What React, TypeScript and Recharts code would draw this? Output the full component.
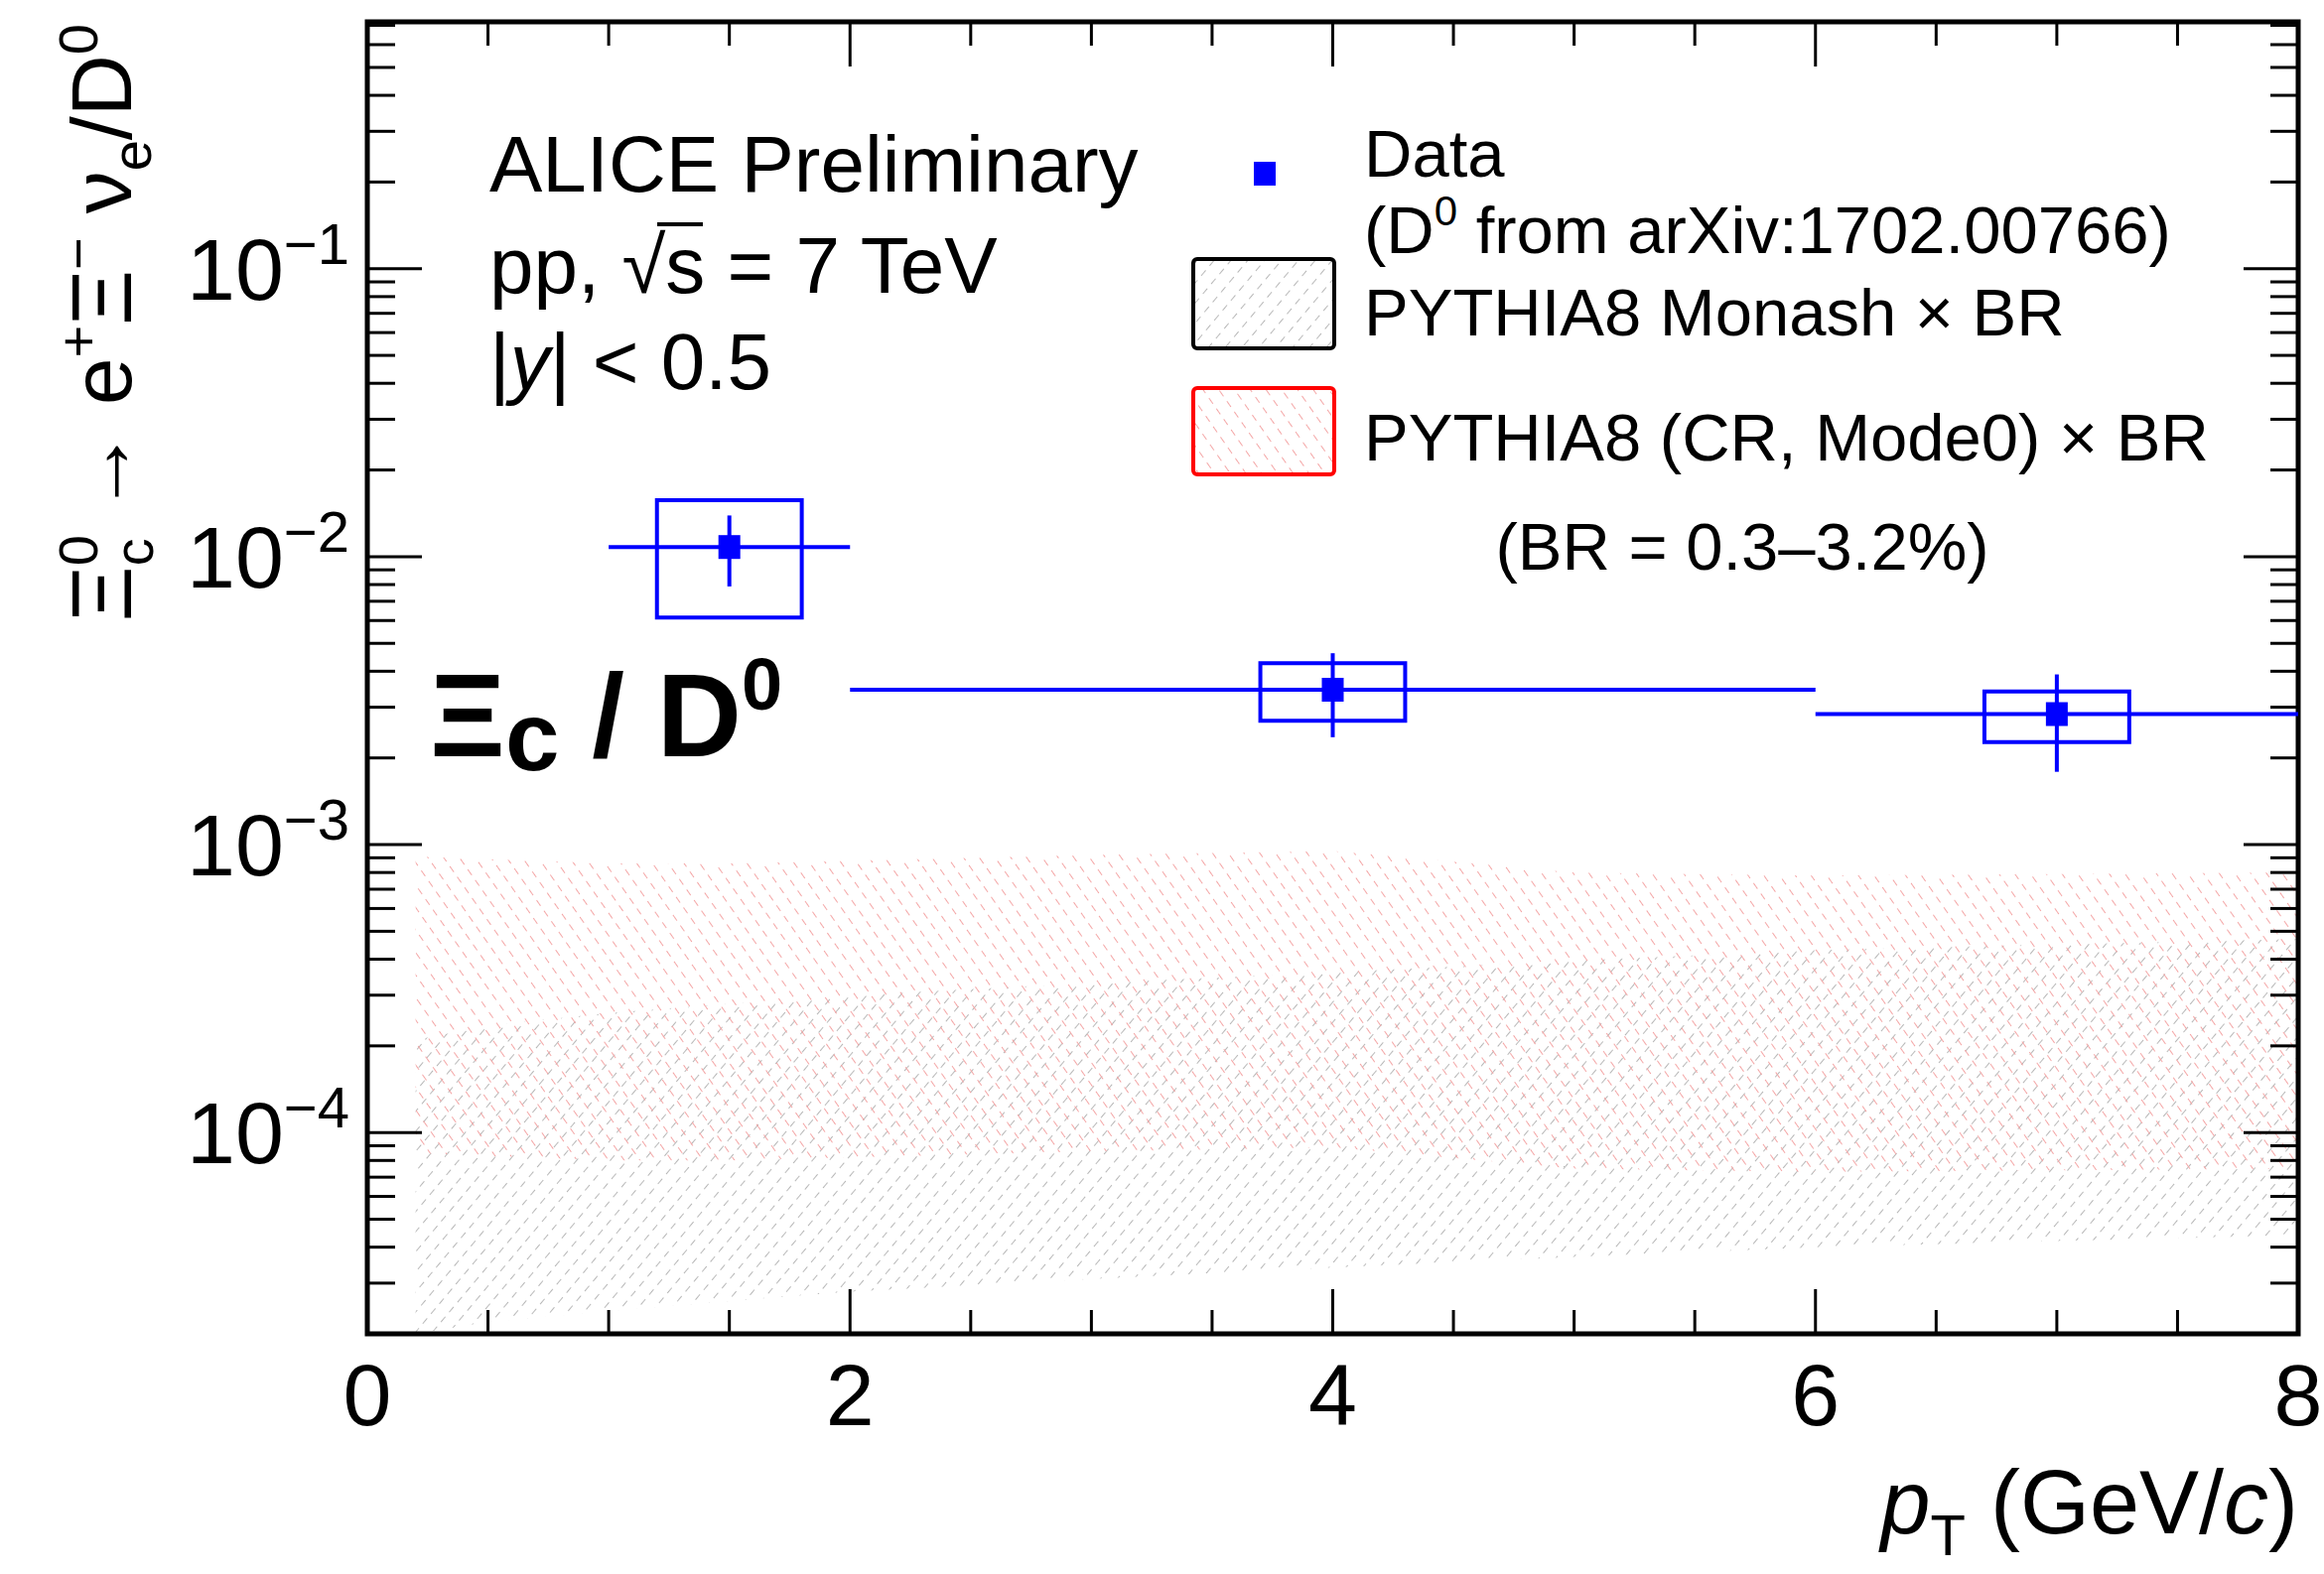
import React from "react";
import {
  ComposedChart,
  Area,
  Scatter,
  ErrorBar,
  XAxis,
  YAxis,
  ReferenceArea,
} from "recharts";

// canvas and frame (pixels)
const W = 2341;
const H = 1586;
const PLOT_LEFT = 370;
const PLOT_RIGHT = 2315;
const PLOT_TOP = 22;
const PLOT_BOTTOM = 1344;
const FONT = "'Liberation Sans', Arial, Helvetica, sans-serif";
const BLUE = "#0000ff";

// axis ranges
const X_MIN = 0;
const X_MAX = 8;
const Y_MIN = 2e-5;
const Y_MAX = 0.72;

// tick labels
const xMajorTicks = [0, 2, 4, 6, 8];
const yDecades = [1e-4, 1e-3, 1e-2, 1e-1];
const yDecadeExponents = ["\u22124", "\u22123", "\u22122", "\u22121"];

// measured Xi_c / D0 ratio
const ptCenter = [1.5, 4, 7];
const binLow = [1, 2, 6];
const binHigh = [2, 6, 8];
const ratioValue = [0.0108, 0.00345, 0.00284];
const statLow = [0.00788, 0.00236, 0.00179];
const statHigh = [0.0139, 0.00462, 0.0039];
const sysLow = [0.00614, 0.00269, 0.00227];
const sysHigh = [0.0157, 0.00427, 0.0034];
const sysBoxLow = [1.2, 3.7, 6.7];
const sysBoxHigh = [1.8, 4.3, 7.3];

// PYTHIA8 bands (BR = 0.3-3.2%)
const modelPt = [0.2, 0.5, 1, 1.5, 2, 3, 4, 5, 6, 7, 8];
const monashLow = [2.0e-5, 2.2e-5, 2.4e-5, 2.6e-5, 2.8e-5, 3.1e-5, 3.4e-5, 3.7e-5, 4.0e-5, 4.2e-5, 4.4e-5];
const monashHigh = [2.1e-4, 2.35e-4, 2.6e-4, 2.8e-4, 3.0e-4, 3.3e-4, 3.6e-4, 3.95e-4, 4.3e-4, 4.5e-4, 4.7e-4];
const crLow = [8.5e-5, 8.3e-5, 8.0e-5, 8.0e-5, 8.2e-5, 8.6e-5, 8.9e-5, 7.5e-5, 7.3e-5, 7.4e-5, 7.5e-5];
const crHigh = [9.1e-4, 8.9e-4, 8.6e-4, 8.6e-4, 8.8e-4, 9.2e-4, 9.5e-4, 8.0e-4, 7.8e-4, 7.9e-4, 8.0e-4];

const bandData = modelPt.map((pt, i) => ({
  pt,
  monash: [monashLow[i], monashHigh[i]],
  cr: [crLow[i], crHigh[i]],
}));

const points = ptCenter.map((pt, i) => ({
  pt,
  ratio: ratioValue[i],
  yErr: [ratioValue[i] - statLow[i], statHigh[i] - ratioValue[i]],
  xErr: [pt - binLow[i], binHigh[i] - pt],
}));

// tick positions (0.5 steps on x, 1..9 x 10^n on log y)
const xTicks: number[] = [];
for (let v = X_MIN; v <= X_MAX; v += 0.5) xTicks.push(v);
const yTicks: number[] = [];
[1e-5, 1e-4, 1e-3, 1e-2, 1e-1].forEach((d) => {
  for (let m = 1; m <= 9; m++) {
    const v = m * d;
    if (v >= Y_MIN * 0.999 && v <= Y_MAX * 1.001) yTicks.push(v);
  }
});

const XTick = (props: any) => {
  const { x, payload } = props;
  const v = payload.value;
  const major = xMajorTicks.includes(v);
  const len = major ? 45 : 24;
  return (
    <g>
      <line x1={x} x2={x} y1={PLOT_BOTTOM} y2={PLOT_BOTTOM - len} stroke="#000" strokeWidth={3} />
      <line x1={x} x2={x} y1={PLOT_TOP} y2={PLOT_TOP + len} stroke="#000" strokeWidth={3} />
      {major && (
        <text x={x} y={1436} textAnchor="middle" fontSize={88} fontFamily={FONT} fill="#000">
          {v}
        </text>
      )}
    </g>
  );
};

const YTick = (props: any) => {
  const { y, payload } = props;
  const v = payload.value;
  const idx = yDecades.findIndex((d) => Math.abs(d - v) / d < 1e-6);
  const major = idx >= 0;
  const len = major ? 55 : 28;
  return (
    <g>
      <line x1={PLOT_LEFT} x2={PLOT_LEFT + len} y1={y} y2={y} stroke="#000" strokeWidth={3} />
      <line x1={PLOT_RIGHT - len} x2={PLOT_RIGHT} y1={y} y2={y} stroke="#000" strokeWidth={3} />
      {major && (
        <text x={352} y={y + 31} textAnchor="end" fontSize={88} fontFamily={FONT} fill="#000">
          10
          <tspan fontSize={58} dy={-36}>
            {yDecadeExponents[idx]}
          </tspan>
        </text>
      )}
    </g>
  );
};

const DataMarker = (props: any) => (
  <rect x={props.cx - 11} y={props.cy - 12} width={22} height={24} fill={BLUE} />
);

const Hatches = ({ prefix }: { prefix: string }) => (
  <defs>
    <pattern id={`${prefix}Gray`} width={13} height={13} patternUnits="userSpaceOnUse" patternTransform="rotate(40)">
      <line x1={0} y1={0} x2={0} y2={13} stroke="#b8b8b8" strokeWidth={2} strokeDasharray="7 6" />
    </pattern>
    <pattern id={`${prefix}Red`} width={13} height={13} patternUnits="userSpaceOnUse" patternTransform="rotate(-35)">
      <line x1={0} y1={0} x2={0} y2={13} stroke="#f4a6a6" strokeWidth={2} strokeDasharray="7 6" />
    </pattern>
  </defs>
);

export default function App() {
  return (
    <div style={{ position: "absolute", left: 0, top: 0, width: W, height: H, background: "#fff" }}>
      <ComposedChart
        width={W}
        height={H}
        data={bandData}
        margin={{ top: PLOT_TOP, right: W - PLOT_RIGHT, bottom: H - PLOT_BOTTOM - 100, left: PLOT_LEFT - 100 }}
      >
        <Hatches prefix="band" />
        <XAxis
          dataKey="pt"
          type="number"
          domain={[X_MIN, X_MAX]}
          allowDataOverflow
          ticks={xTicks}
          interval={0}
          height={100}
          axisLine={false}
          tickLine={false}
          tickSize={0}
          tickMargin={0}
          tick={(p: any) => <XTick {...p} />}
        />
        <YAxis
          type="number"
          scale="log"
          domain={[Y_MIN, Y_MAX]}
          allowDataOverflow
          ticks={yTicks}
          interval={0}
          width={100}
          axisLine={false}
          tickLine={false}
          tickSize={0}
          tickMargin={0}
          tick={(p: any) => <YTick {...p} />}
        />
        <Area
          type="linear"
          dataKey="monash"
          stroke="none"
          fill="url(#bandGray)"
          fillOpacity={1}
          dot={false}
          activeDot={false}
          isAnimationActive={false}
        />
        <Area
          type="linear"
          dataKey="cr"
          stroke="none"
          fill="url(#bandRed)"
          fillOpacity={1}
          dot={false}
          activeDot={false}
          isAnimationActive={false}
        />
        {points.map((p, i) => (
          <ReferenceArea
            key={`sys-${i}`}
            x1={sysBoxLow[i]}
            x2={sysBoxHigh[i]}
            y1={sysLow[i]}
            y2={sysHigh[i]}
            fill="none"
            stroke={BLUE}
            strokeWidth={4}
            ifOverflow="visible"
          />
        ))}
        <Scatter data={points} dataKey="ratio" shape={DataMarker} isAnimationActive={false}>
          <ErrorBar dataKey="xErr" direction="x" width={0} stroke={BLUE} strokeWidth={4} isAnimationActive={false} />
          <ErrorBar dataKey="yErr" direction="y" width={0} stroke={BLUE} strokeWidth={4} isAnimationActive={false} />
        </Scatter>
        <ReferenceArea
          x1={X_MIN}
          x2={X_MAX}
          y1={Y_MIN}
          y2={Y_MAX}
          fill="none"
          stroke="#000"
          strokeWidth={5}
          ifOverflow="visible"
        />
      </ComposedChart>

      <svg
        width={W}
        height={H}
        style={{ position: "absolute", left: 0, top: 0, pointerEvents: "none" }}
        fontFamily={FONT}
      >
        <Hatches prefix="legend" />

        {/* y axis title */}
        <text transform="translate(132, 24) rotate(-90)" textAnchor="end" fontSize={86} fill="#000">
          {"\u039E"}
          <tspan fontSize={56} dy={-34}>0</tspan>
          <tspan fontSize={56} dx={-31} dy={56}>c</tspan>
          <tspan fontSize={86} dy={-22}>{" \u2192 e"}</tspan>
          <tspan fontSize={56} dy={-34}>+</tspan>
          <tspan fontSize={86} dy={34}>{"\u039E"}</tspan>
          <tspan fontSize={56} dy={-34}>{"\u2212"}</tspan>
          <tspan fontSize={86} dy={34}>{" \u03BD"}</tspan>
          <tspan fontSize={56} dy={20}>e</tspan>
          <tspan fontSize={86} dy={-20}>/D</tspan>
          <tspan fontSize={56} dy={-34}>0</tspan>
        </text>

        {/* x axis title */}
        <text x={PLOT_RIGHT} y={1545} textAnchor="end" fontSize={90} fill="#000">
          <tspan fontStyle="italic">p</tspan>
          <tspan fontSize={58} dy={22}>T</tspan>
          <tspan dy={-22}>{" (GeV/"}</tspan>
          <tspan fontStyle="italic">c</tspan>
          <tspan>)</tspan>
        </text>

        {/* header */}
        <text x={493} y={193} fontSize={80} fill="#000">ALICE Preliminary</text>
        <text x={493} y={295} fontSize={80} fill="#000">
          {"pp, \u221As = 7 TeV"}
        </text>
        <line x1={662} x2={708} y1={226} y2={226} stroke="#000" strokeWidth={4} />
        <text x={493} y={392} fontSize={80} fill="#000">
          {"|"}
          <tspan fontStyle="italic">y</tspan>
          {"| < 0.5"}
        </text>

        {/* legend */}
        <rect x={1263} y={163} width={22} height={24} fill={BLUE} />
        <text x={1374} y={178} fontSize={67} fill="#000">Data</text>
        <text x={1374} y={255} fontSize={67} fill="#000">
          (D
          <tspan fontSize={42} dy={-28}>0</tspan>
          <tspan dy={28}>{" from arXiv:1702.00766)"}</tspan>
        </text>
        <rect x={1202} y={261} width={142} height={90} rx={4} fill="url(#legendGray)" stroke="#000" strokeWidth={4} />
        <text x={1374} y={338} fontSize={67} fill="#000">{"PYTHIA8 Monash \u00D7 BR"}</text>
        <rect x={1202} y={391} width={142} height={87} rx={4} fill="url(#legendRed)" stroke="#ff0000" strokeWidth={4} />
        <text x={1374} y={464} fontSize={67} fill="#000">{"PYTHIA8 (CR, Mode0) \u00D7 BR"}</text>
        <text x={1755} y={574} fontSize={67} textAnchor="middle" fill="#000">{"(BR = 0.3\u20133.2%)"}</text>

        {/* particle label */}
        <text x={433} y={762} fontSize={118} fontWeight="bold" fill="#000">
          {"\u039E"}
          <tspan fontSize={98} dy={14}>c</tspan>
          <tspan fontSize={118} dy={-14}>{" / D"}</tspan>
          <tspan fontSize={74} dy={-47}>0</tspan>
        </text>
      </svg>
    </div>
  );
}
